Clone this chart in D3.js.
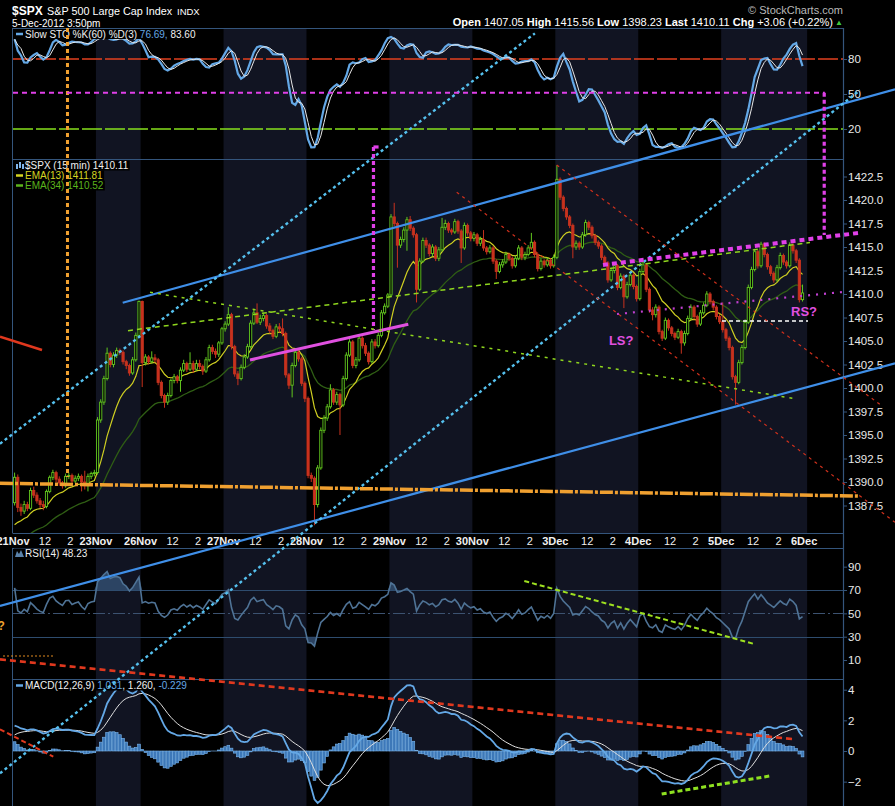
<!DOCTYPE html>
<html><head><meta charset="utf-8">
<script src="https://cdn.jsdelivr.net/npm/d3@7/dist/d3.min.js"></script>
<style>html,body{margin:0;padding:0;background:#000;overflow:hidden}svg{display:block}</style>
</head><body>
<svg id="chart" width="895" height="806"></svg>
<script>
// ---------------- DATA ----------------
const dayLabels = ["21Nov","23Nov","26Nov","27Nov","28Nov","29Nov","30Nov","3Dec","4Dec","5Dec","6Dec"];
const barsPerDay = [26,14,26,26,26,26,26,26,26,26,0];
const priorClose = 1387.8;
const close = [
1390.5,1387.3,1386.9,1387.6,1387.2,1389.1,1388.6,1388.0,1387.6,1387.4,1389.0,1390.5,1391.0,1390.3,1389.9,1389.6,1390.6,1390.7,1390.1,1390.4,1390.6,1390.0,1389.6,1390.6,1390.9,1391.0,
1396.6,1398.5,1401.0,1403.7,1402.5,1403.5,1404.0,1403.8,1402.8,1402.4,1401.6,1403.0,1405.6,1409.2,
1402.7,1403.3,1402.8,1403.2,1403.0,1400.6,1399.2,1398.5,1399.2,1400.8,1401.2,1400.8,1401.9,1402.6,1402.0,1402.6,1402.0,1402.6,1402.3,1401.8,1403.0,1404.3,1403.9,1403.6,1404.8,1406.3,
1406.8,1407.8,1404.4,1401.5,1401.0,1402.2,1403.3,1404.4,1406.9,1408.0,1407.0,1407.4,1407.7,1406.6,1406.1,1405.5,1406.5,1406.3,1405.8,1401.4,1400.3,1402.4,1403.8,1403.1,1400.5,1398.9,
1390.7,1390.4,1387.6,1391.5,1395.5,1396.8,1398.0,1399.8,1398.5,1399.3,1398.2,1401.0,1403.5,1404.9,1402.4,1403.0,1405.3,1404.5,1403.7,1402.8,1404.9,1404.5,1405.6,1408.0,1408.7,1409.9,
1418.2,1417.5,1415.2,1415.8,1416.8,1417.9,1417.0,1416.3,1410.5,1413.5,1415.7,1415.2,1414.3,1415.0,1413.8,1414.7,1417.1,1417.5,1416.8,1416.6,1417.7,1416.7,1414.9,1417.3,1416.5,1415.9,
1416.3,1415.4,1415.8,1414.9,1414.5,1414.9,1413.5,1412.4,1413.1,1413.4,1414.2,1413.8,1413.0,1413.8,1414.9,1413.9,1414.2,1414.9,1415.5,1414.2,1412.7,1413.5,1413.1,1413.6,1413.0,1413.9,
1422.2,1420.3,1419.1,1418.2,1417.3,1415.0,1415.4,1415.0,1416.3,1417.6,1417.1,1416.2,1415.5,1415.1,1413.9,1413.3,1411.5,1412.5,1413.0,1410.7,1411.9,1409.7,1411.0,1412.0,1410.8,1409.5,
1412.4,1413.1,1410.5,1408.3,1407.8,1408.6,1406.0,1405.3,1407.2,1406.4,1405.8,1405.4,1406.0,1404.8,1405.8,1407.4,1408.6,1407.6,1406.8,1408.0,1408.8,1410.0,1409.2,1408.6,1407.6,1407.05,
1406.2,1405.3,1404.3,1401.2,1400.6,1402.7,1404.3,1407.0,1410.7,1412.6,1414.5,1413.0,1415.3,1414.2,1412.9,1412.2,1411.5,1412.8,1414.1,1413.4,1413.0,1415.2,1414.6,1413.6,1409.4,1410.11
];
const high = [
1391.0,1390.8,1387.7,1388.0,1387.9,1389.4,1389.5,1388.9,1388.3,1388.0,1389.2,1390.7,1391.3,1391.2,1390.6,1390.1,1390.9,1391.0,1390.9,1390.7,1390.9,1390.8,1391.2,1390.9,1391.1,1391.3,
1396.9,1398.8,1401.3,1404.3,1403.9,1403.8,1404.3,1404.2,1404.0,1403.0,1402.6,1403.3,1405.9,1409.3,
1409.3,1403.6,1403.5,1403.9,1403.6,1403.2,1400.8,1399.4,1399.5,1401.0,1401.5,1401.4,1402.2,1403.0,1402.8,1403.8,1402.9,1403.0,1403.0,1402.5,1403.3,1404.6,1404.6,1404.2,1405.0,1406.5,
1407.1,1408.6,1408.0,1404.6,1401.8,1402.5,1403.6,1404.7,1407.2,1408.3,1409.0,1407.8,1408.0,1407.9,1406.9,1406.3,1406.8,1406.9,1407.4,1406.0,1401.6,1402.7,1404.1,1404.2,1403.3,1400.7,
1399.1,1391.0,1390.6,1391.8,1395.8,1397.1,1398.3,1400.4,1400.0,1399.6,1399.5,1401.3,1403.8,1405.2,1405.1,1403.3,1405.6,1405.5,1404.8,1403.9,1405.2,1405.2,1405.9,1408.3,1409.0,1410.1,
1418.5,1419.7,1417.7,1416.1,1417.1,1418.2,1418.3,1417.2,1416.5,1413.8,1416.0,1416.0,1415.4,1415.3,1415.2,1415.0,1418.1,1417.9,1417.7,1417.0,1418.0,1417.9,1416.9,1417.6,1417.5,1416.7,
1416.6,1416.5,1416.1,1416.8,1415.1,1415.2,1415.1,1413.7,1413.4,1413.7,1414.5,1414.4,1414.0,1414.1,1415.2,1415.1,1414.5,1415.2,1416.5,1415.7,1414.4,1413.8,1413.7,1413.9,1413.8,1414.2,
1423.7,1422.4,1420.5,1419.3,1418.4,1417.5,1415.7,1415.6,1416.6,1417.9,1417.8,1417.3,1416.4,1415.7,1415.3,1414.1,1413.5,1412.8,1413.3,1413.2,1412.2,1412.1,1411.3,1412.3,1412.2,1411.0,
1412.7,1413.4,1413.3,1410.7,1408.6,1408.9,1408.8,1406.2,1407.5,1407.4,1406.6,1406.0,1406.3,1406.2,1406.1,1407.7,1408.9,1408.8,1407.8,1408.3,1409.1,1410.3,1410.2,1409.4,1408.8,1407.9,
1409.1,1406.4,1405.5,1404.5,1401.4,1403.0,1404.6,1407.3,1411.0,1412.9,1414.8,1414.7,1415.56,1415.5,1414.4,1413.1,1412.4,1413.1,1414.4,1414.3,1413.6,1415.5,1415.4,1414.8,1413.8,1411.0
];
const low = [
1387.5,1386.8,1386.4,1386.6,1386.9,1387.0,1388.3,1387.7,1387.2,1387.0,1387.2,1388.8,1390.2,1390.0,1389.6,1389.3,1389.4,1390.3,1389.8,1389.9,1390.1,1389.0,1389.2,1389.0,1390.3,1390.6,
1390.8,1396.3,1398.2,1400.8,1402.2,1402.2,1403.2,1403.5,1402.5,1402.0,1401.3,1401.4,1402.8,1405.4,
1400.1,1402.4,1402.5,1402.6,1402.7,1400.3,1398.9,1397.9,1398.2,1399.0,1400.5,1400.5,1399.6,1401.7,1401.7,1401.8,1401.6,1401.8,1402.0,1401.4,1401.6,1402.8,1403.6,1403.2,1403.3,1404.6,
1406.0,1406.6,1404.1,1401.2,1400.3,1400.8,1402.0,1403.1,1404.2,1406.7,1406.8,1406.7,1407.1,1406.3,1405.8,1405.2,1405.3,1405.9,1405.5,1401.1,1399.9,1399.0,1402.2,1402.8,1400.2,1398.5,
1390.4,1390.0,1385.4,1387.3,1391.3,1395.2,1396.5,1397.8,1398.2,1398.2,1395.0,1398.0,1400.8,1403.3,1402.1,1402.1,1402.8,1404.2,1403.4,1402.5,1402.6,1404.2,1404.3,1405.4,1407.8,1408.5,
1409.7,1417.2,1412.8,1414.9,1415.5,1414.6,1416.7,1416.0,1409.1,1410.3,1413.3,1414.9,1414.0,1414.0,1413.5,1413.5,1414.5,1416.8,1416.5,1416.3,1416.4,1416.4,1413.3,1414.7,1416.2,1415.6,
1415.6,1415.1,1415.1,1414.6,1414.2,1414.3,1413.2,1411.6,1412.2,1412.8,1413.2,1413.5,1412.7,1412.8,1413.6,1413.6,1413.6,1414.0,1414.7,1413.9,1412.4,1412.5,1412.8,1412.9,1412.7,1412.8,
1413.7,1420.0,1418.8,1417.9,1417.0,1413.8,1414.7,1414.7,1414.8,1416.1,1416.8,1415.9,1415.2,1414.8,1413.6,1413.0,1411.2,1411.3,1412.2,1410.4,1410.5,1408.5,1409.5,1410.8,1410.5,1409.2,
1409.3,1412.2,1410.2,1408.0,1407.2,1407.5,1405.7,1405.0,1405.1,1406.1,1405.5,1405.1,1405.2,1403.65,1404.5,1405.6,1407.2,1407.3,1406.5,1406.6,1407.8,1408.6,1408.9,1408.3,1407.3,1406.8,
1405.9,1405.0,1404.0,1400.9,1398.23,1400.4,1402.5,1404.1,1406.8,1410.5,1412.4,1412.7,1412.8,1413.9,1412.6,1411.9,1411.2,1411.3,1412.6,1413.1,1412.7,1412.8,1414.3,1413.3,1409.1,1409.2
];
// indicator starting states (estimated from where each indicator line begins)
const seedEma13 = 1384.6, seedEma34 = 1383.0, seedEma12 = 1386.0, seedEma26 = 1384.6, seedSignal = 0.9;
const seedGain = 0.30, seedLoss = 0.20;
const priorRangeHigh = 1389.6, priorRangeLow = 1374.7;

const priceTicks = [1387.5,1390,1392.5,1395,1397.5,1400,1402.5,1405,1407.5,1410,1412.5,1415,1417.5,1420,1422.5];
const stoTicks = [20,50,80];
const rsiTicks = [10,30,50,70,90];
const macdTicks = [-2,0,2,4];

const headerStats = [["Open","1407.05"],["High","1415.56"],["Low","1398.23"],["Last","1410.11"],["Chg","+3.06 (+0.22%)"]];
const legendSto = ["Slow STO %K(60) %D(3) ","76.69,"," 83.60"];
const legendPrice = ["$SPX (15 min) 1410.11","EMA(13) 1411.81","EMA(34) 1410.52"];
const legendRsi = "RSI(14) 48.23";
const legendMacd = ["MACD(12,26,9) ","1.031",", 1.260, ","-0.229"];

// annotations: [name, scale, slotStart, valueStart, slotEnd, valueEnd]
const trendLines = [
 ["channelTop","price",34.39,1409.07,276.5,1431.78],
 ["channelBottom","price",-4.08,1376.81,276.5,1402.62],
 ["dotA","price",-4.08,1394.07,163.6,1437.73],
 ["dotB","price",-4.08,1359.01,265.5,1431.68],
 ["orangeH","price",-4.08,1389.86,265.5,1388.51],
 ["orangeV","price",17.08,1438.3,17.08,1390.53],
 ["magStoH","sto",0,51.1,254.5,51.1],
 ["magV1","price",254.3,1431.41,254.3,1416.28],
 ["magV2","price",113.0,1425.64,113.0,1406.17],
 ["magV2cap","price",113.0,1425.64,114.6,1425.64],
 ["magSolid","price",74.29,1402.98,123.92,1406.78],
 ["magTop","price",184.95,1413.09,264.89,1416.49],
 ["magLow","price",189.34,1407.87,260.82,1410.24],
 ["whiteNeck","price",222.26,1407.13,249.22,1407.13],
 ["greenTop","price",36.05,1406.10,249.84,1415.47],
 ["greenDecl","price",42.95,1410.18,244.6,1398.90],
 ["redA","price",139.09,1420.82,276.5,1385.71],
 ["redB","price",170.44,1423.72,272.41,1398.09],
 ["redSolid","price",-4.08,1405.45,9.09,1404.04],
 ["rsiGreen","rsi",160.28,77.74,232.38,23.74],
 ["macdGreen","macd",203.35,-2.805,237.84,-1.611],
 ["redLong","macd",-4.08,5.98,244.2,0.783],
 ["redShort","macd",-4.08,1.416,12.63,-0.372],
 ["orangeRsi","rsi",-3.13,13.46,12.54,13.46]
];
const notes = [["LS?","price",186.8,1404.57],["RS?","price",243.9,1407.66],["?","rsi",-4.9,35.7]];

// ---------------- STYLES ----------------
const lineStyle = {
 channelTop:["#3f8fe8",2.2,null], channelBottom:["#3f8fe8",2.2,null],
 dotA:["#55c0ee",2.4,"3,3"], dotB:["#55c0ee",2.4,"3,3"],
 orangeH:["#f0a030",3.5,"13,2,3,2"], orangeV:["#f0a030",3,"4,3"],
 magStoH:["#e040e8",2,"5,4"], magV1:["#e040e8",3.2,"4,3"], magV2:["#e040e8",3.2,"4,3"], magV2cap:["#e040e8",3.2,null],
 magSolid:["#e050e0",3,null], magTop:["#e040e8",4,"5,4"], magLow:["#c040d0",2.2,"2,6"],
 whiteNeck:["#ffffff",1.4,"4,3"],
 greenTop:["#8fd61e",1.5,"5,4"], greenDecl:["#8fd61e",1.5,"3,5"],
 redA:["#d0301c",1.2,"3,4"], redB:["#d0301c",1.2,"3,4"], redSolid:["#e0381e",2.5,null],
 rsiGreen:["#9ee020",2,"5,3"], macdGreen:["#8ee020",3,"5,3"],
 redLong:["#e0381e",2.6,"6,4"], redShort:["#e0381e",2,"5,3"], orangeRsi:["#e08a20",1.2,"2,2"]
};
const noteStyle = {"LS?":["#e050e0","bold",13],"RS?":["#e050e0","bold",13],"?":["#f0a030","bold",12]};

// ---------------- LAYOUT ----------------
const W=895,H=806,L=13,R=843,SLOT=3.19;
const FONT='"Liberation Sans", Arial, Helvetica, sans-serif';
const P={sto:[28,159],price:[159,533],rsi:[548,679],macd:[679,806]};
const x=d3.scaleLinear().domain([0,(R-L)/SLOT]).range([L,R]);
const yS=d3.scaleLinear().domain([0,100]).range([152.3,35.7]);
const yP=d3.scaleLinear().domain([1390,1420]).range([482,200]);
const yR=d3.scaleLinear().domain([0,100]).range([671.7,555.0]);
const yM=d3.scaleLinear().domain([0,4]).range([751,689.7]);
const scales={sto:yS,price:yP,rsi:yR,macd:yM};
const crisp=v=>Math.round(v)+0.5;

const N=close.length;
const open=close.map((c,i)=>i?close[i-1]:priorClose);
function ema(a,n,seed){const k=2/(n+1);let e=seed;return a.map(v=>(e+=k*(v-e)));}
const ema13=ema(close,13,seedEma13), ema34=ema(close,34,seedEma34);
const e12=ema(close,12,seedEma12), e26=ema(close,26,seedEma26);
const macd=e12.map((v,i)=>v-e26[i]);
const signal=ema(macd,9,seedSignal);
const hist=macd.map((v,i)=>v-signal[i]);
let ag=seedGain, al=seedLoss;
const rsi=close.map((c,i)=>{const ch=c-(i?close[i-1]:priorClose);ag=(ag*13+Math.max(ch,0))/14;al=(al*13+Math.max(-ch,0))/14;return 100-100/(1+ag/al);});
const fastK=close.map((c,i)=>{let hh=-Infinity,ll=Infinity;for(let j=Math.max(0,i-59);j<=i;j++){hh=Math.max(hh,high[j]);ll=Math.min(ll,low[j]);}
  if(i<59){hh=Math.max(hh,priorRangeHigh);ll=Math.min(ll,priorRangeLow);} return (c-ll)/(hh-ll)*100;});
const sma3=a=>a.map((v,i)=>d3.mean(a.slice(Math.max(0,i-2),i+1)));
const slowK=sma3(fastK), slowD=sma3(slowK);

const svg=d3.select('#chart');
svg.append('rect').attr('width',W).attr('height',H).attr('fill','#000');
const defs=svg.append('defs');
Object.entries(P).forEach(([k,[t,b]])=>{defs.append('clipPath').attr('id','clip-'+k).append('rect').attr('x',L).attr('y',t).attr('width',R-L).attr('height',b-t);});

// day bands
const starts=[];{let s=0;barsPerDay.forEach(b=>{starts.push(s);s+=b;});}
Object.values(P).forEach(([t,b])=>{
  starts.forEach((s,d)=>{ if(d%2===1 && barsPerDay[d]>0){
    svg.append('rect').attr('x',x(s)).attr('y',t).attr('width',x(s+barsPerDay[d])-x(s)+(d===9?3:0)).attr('height',b-t).attr('fill','#111422');
  }});
});

// reference lines
const gRef=svg.append('g');
function hline(y,col,w,dash){const l=gRef.append('line').attr('x1',L).attr('x2',R).attr('y1',y).attr('y2',y).attr('stroke',col).attr('stroke-width',w);if(dash)l.attr('stroke-dasharray',dash);}
hline(yS(80),'#e2401f',1.5,'20,3');
hline(yS(20),'#86e01c',1.5,'20,3');
hline(crisp(yR(70)),'#2e4c6e',1,null);
hline(crisp(yR(30)),'#2e4c6e',1,null);
hline(crisp(yR(50)),'#3c5270',1,'12,3,2,3');

// STO
const gS=svg.append('g').attr('clip-path','url(#clip-sto)');
const lineS=d3.line().x((d,i)=>x(i+0.5)).y(d=>yS(d));
gS.append('path').datum(slowK).attr('d',lineS).attr('fill','none').attr('stroke','#64a8e6').attr('stroke-width',2.2);
gS.append('path').datum(slowD).attr('d',lineS).attr('fill','none').attr('stroke','#e8e8e8').attr('stroke-width',1);

// Price
const gP=svg.append('g').attr('clip-path','url(#clip-price)');
const lineP=d3.line().x((d,i)=>x(i+0.5)).y(d=>yP(d));
gP.append('path').datum(ema34).attr('d',lineP).attr('fill','none').attr('stroke','#2f5e14').attr('stroke-width',1.3);
gP.append('path').datum(ema13).attr('d',lineP).attr('fill','none').attr('stroke','#cfcf22').attr('stroke-width',1.2);
const bw=2.2;
close.forEach((c,i)=>{
  const o=open[i], up=c>=o, col=up?'#62c81e':'#c8321e';
  const cx=x(i+0.5);
  const h=Math.max(high[i],o,c), l=Math.min(low[i],o,c);
  gP.append('line').attr('x1',cx).attr('x2',cx).attr('y1',yP(h)).attr('y2',yP(l)).attr('stroke',col).attr('stroke-width',1);
  const top=yP(Math.max(o,c)), ht=Math.max(1,Math.abs(yP(o)-yP(c)));
  gP.append('rect').attr('x',cx-bw/2).attr('y',top).attr('width',bw).attr('height',ht)
    .attr('fill',up?'#000':col).attr('stroke',col).attr('stroke-width',0.9);
});

// RSI
const gR=svg.append('g').attr('clip-path','url(#clip-rsi)');
const xi=(d,i)=>x(i+0.5);
gR.append('path').datum(rsi).attr('d',d3.area().x(xi).y0(yR(70)).y1(d=>yR(Math.max(d,70)))).attr('fill','#30496a').attr('opacity',0.9);
gR.append('path').datum(rsi).attr('d',d3.area().x(xi).y0(yR(30)).y1(d=>yR(Math.min(d,30)))).attr('fill','#30496a').attr('opacity',0.9);
gR.append('path').datum(rsi).attr('d',d3.line().x(xi).y(d=>yR(d))).attr('fill','none').attr('stroke','#4f7396').attr('stroke-width',1.6);

// MACD
const gM=svg.append('g').attr('clip-path','url(#clip-macd)');
hist.forEach((h,i)=>{
  const y0=yM(0), y1=yM(h);
  gM.append('rect').attr('x',x(i)+0.2).attr('y',Math.min(y0,y1)).attr('width',SLOT-0.4).attr('height',Math.abs(y1-y0))
    .attr('fill','#3d78b8').attr('stroke','#7ab6ee').attr('stroke-width',0.6);
});
gM.append('path').datum(signal).attr('d',d3.line().x(xi).y(d=>yM(d))).attr('fill','none').attr('stroke','#e0e0e0').attr('stroke-width',1);
gM.append('path').datum(macd).attr('d',d3.line().x(xi).y(d=>yM(d))).attr('fill','none').attr('stroke','#64a8e6').attr('stroke-width',1.8);

// borders + axes
const bc='#34557c';
[28,159,533,548,679].forEach(y=>svg.append('line').attr('x1',12.5).attr('x2',R).attr('y1',y+0.5).attr('y2',y+0.5).attr('stroke',bc).attr('stroke-width',1));
svg.append('line').attr('x1',12.5).attr('x2',12.5).attr('y1',28).attr('y2',533).attr('stroke',bc);
svg.append('line').attr('x1',12.5).attr('x2',12.5).attr('y1',548).attr('y2',806).attr('stroke',bc);
svg.append('line').attr('x1',R+0.5).attr('x2',R+0.5).attr('y1',28).attr('y2',806).attr('stroke',bc).attr('stroke-width',1.2);
function rightAxis(scale,ticks,fmt){
  const a=svg.append('g').attr('transform',`translate(${R},0)`).call(d3.axisRight(scale).tickValues(ticks).tickFormat(fmt).tickSize(4).tickPadding(1));
  a.select('.domain').remove();
  a.selectAll('line').attr('stroke',bc);
  a.selectAll('text').attr('fill','#e8e8e8').style('font',`11.5px ${FONT}`);
}
rightAxis(yS,stoTicks,d3.format('d'));
rightAxis(yP,priceTicks,d3.format('.1f'));
rightAxis(yR,rsiTicks,d3.format('d'));
rightAxis(yM,macdTicks,d3.format('d'));

// x labels
const gX=svg.append('g').style('font',`11px ${FONT}`).attr('fill','#f0f0f0');
starts.forEach((s,d)=>{
  gX.append('text').attr('x',x(s)).attr('y',545).attr('text-anchor','middle').attr('font-weight','bold').text(dayLabels[d]);
  if(barsPerDay[d]===26){
    gX.append('text').attr('x',x(s+10)).attr('y',545).attr('text-anchor','middle').text('12');
    gX.append('text').attr('x',x(s+18)).attr('y',545).attr('text-anchor','middle').text('2');
  }
});

// legends (drawn under annotations)
function legend(y,parts,iconCol){
  const t=svg.append('text').attr('x',25).attr('y',y).style('font',`10px ${FONT}`);
  parts.forEach(p=>t.append('tspan').attr('fill',p[1]).text(p[0]));
  const b=t.node().getBBox();
  svg.insert('rect',()=>t.node()).attr('x',14).attr('y',y-8.5).attr('width',b.x+b.width-14+1).attr('height',10).attr('fill','#000');
  if(iconCol) svg.append('line').attr('x1',16).attr('x2',23).attr('y1',y-3.5).attr('y2',y-3.5).attr('stroke',iconCol).attr('stroke-width',2.5);
  return t;
}
legend(37.5,[[legendSto[0],'#f0f0f0'],[legendSto[1],'#64a8e6'],[legendSto[2],'#f0f0f0']],'#64a8e6');
legend(169,[[legendPrice[0],'#f0f0f0']],null);
[[16,1],[19,0],[22,1]].forEach(([ix,k])=>svg.append('rect').attr('x',ix).attr('y',162+k*2).attr('width',2).attr('height',6-k).attr('fill','#7fb4ea'));
legend(179,[[legendPrice[1],'#d6d622']],'#d6d622');
legend(189,[[legendPrice[2],'#5cb41c']],'#5cb41c');
legend(557,[[legendRsi,'#f0f0f0']],null);
svg.append('path').attr('d','M15,557 L17,551 L19,554 L21,550 L24,557 Z').attr('fill','#5a82aa');
legend(689,[[legendMacd[0],'#f0f0f0'],[legendMacd[1],'#64a8e6'],[legendMacd[2],'#f0f0f0'],[legendMacd[3],'#64a8e6']],'#64a8e6');

// annotations
const gA=svg.append('g');
trendLines.forEach(([name,sc,s0,v0,s1,v1])=>{
  const st=lineStyle[name], ys=scales[sc];
  const ln=gA.append('line').attr('x1',x(s0)).attr('y1',ys(v0)).attr('x2',x(s1)).attr('y2',ys(v1))
    .attr('stroke',st[0]).attr('stroke-width',st[1]);
  if(st[2]) ln.attr('stroke-dasharray',st[2]);
});
notes.forEach(([t,sc,s,v])=>{
  const st=noteStyle[t];
  gA.append('text').attr('x',x(s)).attr('y',scales[sc](v)).attr('fill',st[0]).attr('font-weight',st[1]).style('font-size',st[2]+'px').style('font-family',FONT).text(t);
});

// header
const hd=svg.append('g').style('font-family',FONT);
hd.append('text').attr('x',12).attr('y',14.5).attr('fill','#fff').attr('font-weight','bold').style('font-size','12px').text('$SPX');
hd.append('text').attr('x',47).attr('y',14.5).attr('fill','#fff').style('font-size','10.8px').text('S&P 500 Large Cap Index');
hd.append('text').attr('x',177).attr('y',14.5).attr('fill','#fff').style('font-size','9.5px').text('INDX');
hd.append('text').attr('x',12).attr('y',26.5).attr('fill','#fff').style('font-size','10px').text('5-Dec-2012 3:50pm');
hd.append('text').attr('x',843).attr('y',14).attr('text-anchor','end').attr('fill','#b8b8b8').style('font-size','11px').text('\u00A9 StockCharts.com');
const st=hd.append('text').attr('x',833).attr('y',26).attr('text-anchor','end').attr('fill','#fff').style('font-size','11px');
headerStats.forEach(([k,v],i)=>{
  st.append('tspan').attr('font-weight','bold').text((i?'  ':'')+k);
  st.append('tspan').text(' '+v);
});
hd.append('path').attr('d','M836.5,25 L839,20.5 L841.5,25 Z').attr('fill','#3cc83c');
</script>
</body></html>
